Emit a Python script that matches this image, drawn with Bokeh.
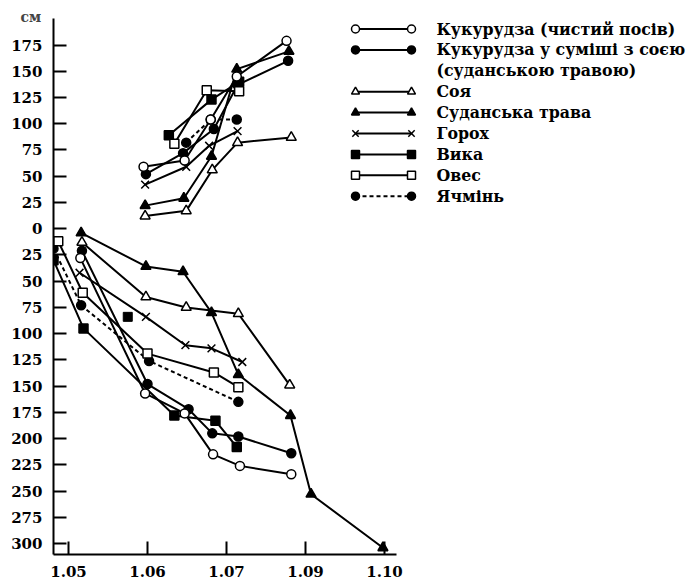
from bokeh.plotting import figure
from bokeh.models import Range1d, FixedTicker
from bokeh.core.properties import value
from bokeh.embed import file_html
from bokeh.resources import INLINE

# ---------------- data (x on the density axis, heights above ground in cm, root depth in cm) ----
x_tick_values = [1.05, 1.06, 1.07, 1.08, 1.09]
x_tick_labels = ["1.05", "1.06", "1.07", "1.09", "1.10"]
y_tick_values = list(range(-300, 176, 25))

# Кукурудза (чистий посів)
corn_top_x = [1.0595, 1.0647, 1.0680, 1.0713, 1.0776]
corn_top_h = [59, 65, 104, 145, 179]
corn_root_x = [1.0515, 1.0597, 1.0647, 1.0683, 1.0717, 1.0782]
corn_root_d = [28, 157, 176, 215, 226, 234]

# Кукурудза у суміші з соєю (суданською травою)
mix_top_x = [1.0598, 1.0645, 1.0684, 1.0714, 1.0778]
mix_top_h = [52, 72, 95, 137, 160]
mix_root_x = [1.0517, 1.0600, 1.0652, 1.0682, 1.0715, 1.0782]
mix_root_d = [21, 148, 172, 195, 198, 214]

# Соя
soy_top_x = [1.0597, 1.0649, 1.0682, 1.0714, 1.0782]
soy_top_h = [12, 17, 56, 82, 87]
soy_root_x = [1.0517, 1.0598, 1.0649, 1.0715, 1.0780]
soy_root_d = [13, 65, 75, 81, 149]

# Суданська трава
sudan_top_x = [1.0597, 1.0646, 1.0681, 1.0713, 1.0779]
sudan_top_h = [22, 29, 69, 152, 169]
sudan_root_x = [1.0516, 1.0598, 1.0645, 1.0681, 1.0715, 1.0781, 1.0807, 1.0898]
sudan_root_d = [4, 36, 41, 80, 139, 178, 253, 304]

# Горох
pea_top_x = [1.0597, 1.0649, 1.0678, 1.0714]
pea_top_h = [42, 59, 79, 93]
pea_root_x = [1.0514, 1.0598, 1.0648, 1.0681, 1.0720]
pea_root_d = [42, 84, 111, 114, 127]

# Вика
vetch_top_x = [1.0627, 1.0681, 1.0716]
vetch_top_h = [89, 123, 140]
vetch_root_x = [1.0481, 1.0519, 1.0634, 1.0686, 1.0713]
vetch_root_d = [30, 95, 178, 183, 208]
vetch_extra_x = [1.0575]
vetch_extra_d = [84]

# Овес
oat_top_x = [1.0634, 1.0675, 1.0716]
oat_top_h = [81, 132, 131]
oat_root_x = [1.0487, 1.0518, 1.0600, 1.0684, 1.0715]
oat_root_d = [12, 61, 119, 137, 151]

# Ячмінь
barley_top_x = [1.0649, 1.0680, 1.0713]
barley_top_h = [82, 104, 104]
barley_root_x = [1.0481, 1.0516, 1.0602, 1.0715]
barley_root_d = [19, 73, 126, 165]

legend_labels = ["Кукурудза (чистий посів)", "Кукурудза у суміші з соєю",
                 "(суданською травою)", "Соя", "Суданська трава", "Горох",
                 "Вика", "Овес", "Ячмінь"]
unit_label = "см"

# ---------------- layout helpers (pixel geometry of the frame) ----------------
W, H = 688, 585
ML, MT, MB = 53, 18, 31
FRAME_W = W - ML
PX_PER_X = 7900.0       # pixels per unit on x
PX_PER_Y = 1.0495       # pixels per cm on y
ZERO_IMG = 228.2        # pixel row of y = 0

x_start = 1.05 - (68 - ML) / PX_PER_X
x_end = x_start + FRAME_W / PX_PER_X


def fx(px):
    return x_start + (px - ML) / PX_PER_X


def fy(py):
    return (ZERO_IMG - py) / PX_PER_Y


y_start = fy(H - MB)
y_end = fy(MT)

FONT = "DejaVu Serif"

p = figure(width=W, height=H, output_backend="svg", toolbar_location=None,
           x_range=Range1d(x_start, x_end), y_range=Range1d(y_start, y_end),
           min_border_left=ML, min_border_right=0, min_border_top=MT,
           min_border_bottom=MB, title=unit_label)
p.title.align = "left"
p.title.offset = -33
p.title.standoff = -12
p.title.text_font = FONT
p.title.text_font_style = "bold"
p.title.text_font_size = "14px"
p.outline_line_color = None
p.xgrid.visible = False
p.ygrid.visible = False
p.background_fill_color = "white"
p.border_fill_color = "white"

for ax in (p.xaxis[0], p.yaxis[0]):
    ax.axis_line_width = 2
    ax.axis_line_color = "black"
    ax.major_tick_line_width = 2
    ax.major_tick_line_color = "black"
    ax.major_tick_in = 13
    ax.major_tick_out = 0
    ax.minor_tick_line_color = None
    ax.major_label_text_font = FONT
    ax.major_label_text_font_style = "bold"
    ax.major_label_text_font_size = "15px"
    ax.major_label_text_color = "black"

p.xaxis.ticker = FixedTicker(ticks=x_tick_values)
p.xaxis.major_label_overrides = {v: l for v, l in zip(x_tick_values, x_tick_labels)}
p.xaxis.bounds = (x_start, fx(396))
p.xaxis.major_label_standoff = 11

p.yaxis.ticker = FixedTicker(ticks=y_tick_values)
p.yaxis.major_label_overrides = {v: str(abs(v)) for v in y_tick_values}
p.yaxis.major_label_standoff = 11

LW = 2


def neg(vals):
    return [-v for v in vals]


def series(xs, ys, marker, fill, dash="solid", size=9):
    p.line(xs, ys, line_color="black", line_width=LW, line_dash=dash)
    p.scatter(xs, ys, marker=marker, size=size, line_color="black",
              line_width=1.5, fill_color=fill)


# draw order: barley first so the open circle sits on top of it
series(barley_top_x, barley_top_h, "circle", "black", "4 3", 9)
series(barley_root_x, neg(barley_root_d), "circle", "black", "4 3", 9)
series(mix_top_x, mix_top_h, "circle", "black", size=9)
series(mix_root_x, neg(mix_root_d), "circle", "black", size=9)
series(soy_top_x, soy_top_h, "triangle", "white", size=10)
series(soy_root_x, neg(soy_root_d), "triangle", "white", size=10)
series(sudan_top_x, sudan_top_h, "triangle", "black", size=10)
series(sudan_root_x, neg(sudan_root_d), "triangle", "black", size=10)
series(pea_top_x, pea_top_h, "x", "black", size=11)
series(pea_root_x, neg(pea_root_d), "x", "black", size=11)
series(vetch_top_x, vetch_top_h, "square", "black", size=9)
series(vetch_root_x, neg(vetch_root_d), "square", "black", size=9)
p.scatter(vetch_extra_x, neg(vetch_extra_d), marker="square", size=9,
          line_color="black", fill_color="black")
series(oat_top_x, oat_top_h, "square", "white", size=9)
series(oat_root_x, neg(oat_root_d), "square", "white", size=9)
series(corn_top_x, corn_top_h, "circle", "white", size=9)
series(corn_root_x, neg(corn_root_d), "circle", "white", size=9)

# ---------------- legend drawn inside the (wide) frame ----------------
leg_styles = [("circle", "white", "solid", 8), ("circle", "black", "solid", 8), None,
              ("triangle", "white", "solid", 8), ("triangle", "black", "solid", 8),
              ("x", "black", "solid", 9), ("square", "black", "solid", 8),
              ("square", "white", "solid", 8), ("circle", "black", "4 3", 8)]
gx0, gx1, tx = fx(355), fx(411), fx(436)
row0, step = 28.5, 20.9
for i, (lab, st) in enumerate(zip(legend_labels, leg_styles)):
    yy = fy(row0 + i * step)
    if st is not None:
        mk, fill, dash, sz = st
        p.line([gx0, gx1], [yy, yy], line_color="black", line_width=LW, line_dash=dash)
        p.scatter([gx0, gx1], [yy, yy], marker=mk, size=sz, line_color="black",
                  line_width=1.5, fill_color=fill)
    p.text([tx], [yy], text=[lab], text_font=value(FONT), text_font_size="15.8px",
           text_font_style="bold", text_baseline="middle", text_align="left",
           text_color="black")

open("out.html", "w").write(file_html(p, INLINE))
